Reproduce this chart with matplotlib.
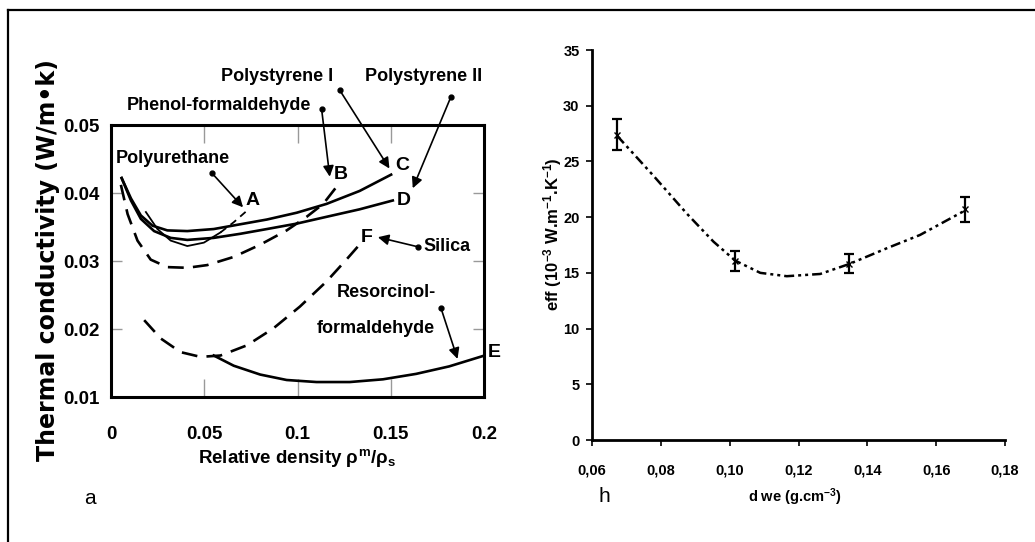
import matplotlib.pyplot as plt
from matplotlib.lines import Line2D

# ---- panel a: thermal conductivity vs relative density
c_x = [0.0057, 0.0107, 0.0160, 0.0222, 0.0302, 0.0409, 0.0551, 0.0693, 0.0836, 0.0996, 0.1156, 0.1333, 0.1502]
c_y = [0.0422, 0.0392, 0.0367, 0.0352, 0.0345, 0.0344, 0.0347, 0.0354, 0.0361, 0.0371, 0.0384, 0.0403, 0.0427]

d_x = [0.0057, 0.0107, 0.0160, 0.0231, 0.0320, 0.0409, 0.0551, 0.0693, 0.0836, 0.0996, 0.1156, 0.1333, 0.1511]
d_y = [0.0422, 0.0389, 0.0362, 0.0344, 0.0334, 0.0331, 0.0334, 0.0340, 0.0347, 0.0355, 0.0365, 0.0376, 0.0389]

a_x = [0.0187, 0.0249, 0.0320, 0.0409, 0.0498, 0.0587, 0.0658, 0.0729]
a_y = [0.0372, 0.0347, 0.0330, 0.0322, 0.0327, 0.0342, 0.0357, 0.0374]

b_x = [0.0053, 0.0089, 0.0142, 0.0213, 0.0302, 0.0409, 0.0516, 0.0658, 0.0800, 0.0942, 0.1049, 0.1138, 0.1209]
b_y = [0.0412, 0.0369, 0.0330, 0.0302, 0.0291, 0.0290, 0.0294, 0.0306, 0.0324, 0.0345, 0.0365, 0.0384, 0.0409]

f_x = [0.0178, 0.0267, 0.0373, 0.0480, 0.0587, 0.0729, 0.0871, 0.1013, 0.1156, 0.1262, 0.1342]
f_y = [0.0213, 0.0186, 0.0166, 0.0159, 0.0161, 0.0176, 0.0201, 0.0233, 0.0270, 0.0302, 0.0327]

e_x = [0.0551, 0.0658, 0.0800, 0.0942, 0.1102, 0.1280, 0.1458, 0.1636, 0.1813, 0.1991]
e_y = [0.0161, 0.0146, 0.0133, 0.0125, 0.0122, 0.0122, 0.0126, 0.0134, 0.0145, 0.0160]

x_ticks_a = [0, 0.05, 0.1, 0.15, 0.2]
x_labels_a = ['0', '0.05', '0.1', '0.15', '0.2']
y_ticks_a = [0.01, 0.02, 0.03, 0.04, 0.05]
y_labels_a = ['0.01', '0.02', '0.03', '0.04', '0.05']

# ---- panel h: effective conductivity vs density
pts_x = [0.0673, 0.1016, 0.1348, 0.1684]
pts_y = [27.4, 16.1, 15.8, 20.7]
pts_err = [1.4, 0.9, 0.85, 1.1]
trend_x = [0.0673, 0.0779, 0.0876, 0.0953, 0.1016, 0.1089, 0.1166, 0.1263, 0.1348, 0.1456, 0.1553, 0.1684]
trend_y = [27.3, 23.7, 20.3, 17.8, 16.1, 15.0, 14.7, 14.9, 15.8, 17.2, 18.4, 20.6]

x_ticks_h = [0.06, 0.08, 0.10, 0.12, 0.14, 0.16, 0.18]
x_labels_h = ['0,06', '0,08', '0,10', '0,12', '0,14', '0,16', '0,18']
y_ticks_h = [0, 5, 10, 15, 20, 25, 30, 35]

sans = ['Liberation Sans', 'DejaVu Sans']
plt.rcParams['font.family'] = sans
plt.rcParams['mathtext.fontset'] = 'custom'
plt.rcParams['mathtext.rm'] = 'Liberation Sans:bold'
plt.rcParams['mathtext.it'] = 'Liberation Sans:bold'
plt.rcParams['mathtext.bf'] = 'Liberation Sans:bold'

W, H = 1035, 542
fig = plt.figure(figsize=(W / 100, H / 100), dpi=100)

# outer frame (left and top only)
fig.add_artist(Line2D([8 / W, 8 / W], [0, 1 - 10 / H], color='black', lw=1.6))
fig.add_artist(Line2D([8 / W, 1], [1 - 10 / H, 1 - 10 / H], color='black', lw=1.6))

# ---------------- panel a ----------------
ax = fig.add_axes([111 / W, 1 - 397 / H, 373 / W, 272 / H])
ax.plot(c_x, c_y, color='black', lw=1.9)
ax.plot(d_x, d_y, color='black', lw=1.9)
ax.plot(a_x[:6], a_y[:6], color='black', lw=1.3)
ax.plot(a_x[5:], a_y[5:], color='black', lw=1.3, dashes=(4, 3))
ax.plot(b_x, b_y, color='black', lw=1.9, dashes=(6, 3.5))
ax.plot(f_x, f_y, color='black', lw=1.9, dashes=(6, 3.5))
ax.plot(e_x, e_y, color='black', lw=1.9)

ax.set_xlim(0, 0.2)
ax.set_ylim(0.01, 0.05)
ax.set_xticks(x_ticks_a)
ax.set_xticklabels(x_labels_a)
ax.set_yticks(y_ticks_a)
ax.set_yticklabels(y_labels_a)
for s in ax.spines.values():
    s.set_linewidth(2.2)
ax.tick_params(axis='x', direction='in', length=13, width=1, color='#999999',
               top=True, pad=21)
ax.tick_params(axis='y', direction='in', length=8, width=1, color='#999999',
               right=True, pad=8)
for lab in ax.get_xticklabels() + ax.get_yticklabels():
    lab.set_fontweight('bold')
    lab.set_fontsize(13.5)

ax.set_xlabel(r'Relative density $\rho^{\rm m}/\rho_{\rm s}$',
              fontweight='bold', fontsize=13.5, labelpad=3)
fig.text(48 / W, 1 - 260 / H, 'Thermal conductivity (W/m\u2022k)', rotation=90,
         ha='center', va='center', family=['DejaVu Sans'],
         fontweight='bold', fontsize=17)


def callout(text, tx, ty, dot, head, letter, lpos):
    ax.text(tx, ty, text, ha='center', va='center',
            fontweight='bold', fontsize=13, clip_on=False)
    ax.annotate('', xy=head, xytext=dot, annotation_clip=False,
                arrowprops=dict(arrowstyle='-|>', lw=1.2, color='black',
                                mutation_scale=16, shrinkA=0, shrinkB=0))
    ax.plot([dot[0]], [dot[1]], 'o', ms=3.5, color='black', clip_on=False)
    ax.text(lpos[0], lpos[1], letter, ha='center', va='center',
            fontweight='bold', fontsize=14, clip_on=False)


callout('Polyurethane', 0.0332, 0.0451, (0.0542, 0.0429), (0.0708, 0.0379), 'A', (0.0759, 0.0389))
callout('Phenol-formaldehyde', 0.0578, 0.0528, (0.1129, 0.0524), (0.1173, 0.0424), 'B', (0.1232, 0.0427))
callout('Polystyrene I', 0.0890, 0.0572, (0.1227, 0.0551), (0.1493, 0.0436), 'C', (0.1562, 0.0441))
callout('Polystyrene II', 0.1675, 0.0572, (0.1822, 0.0541), (0.1618, 0.0407), 'D', (0.1568, 0.0389))
callout('Silica', 0.1800, 0.0321, (0.1644, 0.0321), (0.1431, 0.0335), 'F', (0.1369, 0.0335))
callout('Resorcinol-', 0.1476, 0.0253, (0.1769, 0.0231), (0.1858, 0.0156), 'E', (0.2055, 0.0166))
ax.text(0.1419, 0.0201, 'formaldehyde', ha='center', va='center',
        fontweight='bold', fontsize=13, clip_on=False)

fig.text(90 / W, 1 - 498 / H, 'a', ha='center', va='center', fontsize=15)

# ---------------- panel h ----------------
bx = fig.add_axes([592 / W, 1 - 440 / H, 413 / W, 390 / H])
bx.plot(trend_x, trend_y, color='black', lw=1.8, dashes=(4, 1.6, 1.2, 1.6, 1.2, 1.6))
bx.errorbar(pts_x, pts_y, yerr=pts_err, fmt='x', ms=4, color='black',
            ecolor='black', elinewidth=1.6, capsize=3.5, capthick=1.6)
bx.set_xlim(0.06, 0.18)
bx.set_ylim(0, 35)
bx.set_xticks(x_ticks_h)
bx.set_xticklabels(x_labels_h)
bx.set_yticks(y_ticks_h)
for side in ['top', 'right']:
    bx.spines[side].set_visible(False)
for side in ['left', 'bottom']:
    bx.spines[side].set_linewidth(2.0)
bx.tick_params(axis='x', direction='out', length=4, width=1.2, pad=13)
bx.tick_params(axis='y', direction='out', length=4, width=1.2, pad=5)
for lab in bx.get_xticklabels() + bx.get_yticklabels():
    lab.set_fontweight('bold')
    lab.set_fontsize(10.5)

fig.text(553 / W, 1 - 234 / H, 'eff (10$^{-3}$ W.m$^{-1}$.K$^{-1}$)', rotation=90,
         ha='center', va='center', fontweight='bold', fontsize=12)
fig.text(795 / W, 1 - 497 / H, 'd we (g.cm$^{-3}$)', ha='center', va='center',
         fontweight='bold', fontsize=10.5)
fig.text(604 / W, 1 - 497 / H, 'h', ha='center', va='center', fontsize=15)

fig.savefig('out.png', dpi=100)
